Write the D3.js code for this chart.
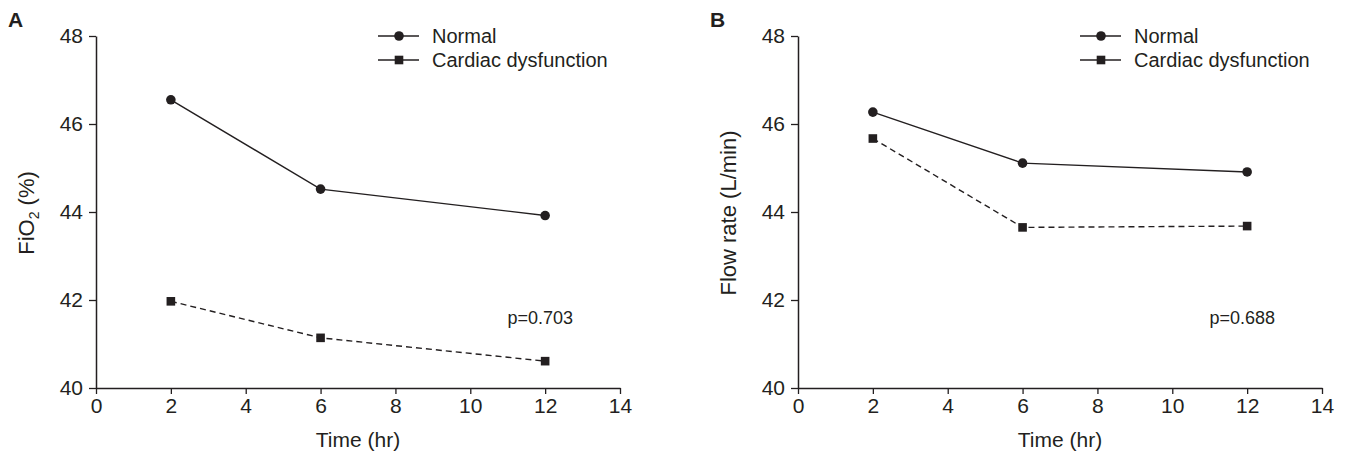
<!DOCTYPE html>
<html>
<head>
<meta charset="utf-8">
<script src="https://d3js.org/d3.v7.min.js"></script>
<style>
  body { margin: 0; background: #fff; }
  text { font-family: "Liberation Sans", Arial, sans-serif; fill: #231f20; }
</style>
</head>
<body>
<script>
// data
var times = [2, 6, 12];
var xTicks = [0, 2, 4, 6, 8, 10, 12, 14];
var yTicks = [40, 42, 44, 46, 48];
var seriesNames = ["Normal", "Cardiac dysfunction"];

var fio2Normal = [46.55, 44.52, 43.92];
var fio2Cardiac = [41.97, 41.14, 40.61];
var flowNormal = [46.27, 45.11, 44.91];
var flowCardiac = [45.67, 43.65, 43.68];

var width = 1347, height = 458;
var ink = "#231f20";

var svg = d3.select("body").append("svg")
  .attr("width", width)
  .attr("height", height);

function panel(left, letter, ylabel, normal, cardiac, pText) {
  var x = d3.scaleLinear().domain([0, 14]).range([left, left + 524]);
  var y = d3.scaleLinear().domain([40, 48]).range([388, 36]);
  var g = svg.append("g");

  var xAxis = g.append("g")
    .attr("transform", "translate(0,388)")
    .call(d3.axisBottom(x).tickValues(xTicks).tickSize(6).tickPadding(4).tickSizeOuter(0));
  var yAxis = g.append("g")
    .attr("transform", "translate(" + left + ",0)")
    .call(d3.axisLeft(y).tickValues(yTicks).tickSize(7).tickPadding(6).tickSizeOuter(0));

  [xAxis, yAxis].forEach(function (a) {
    a.select(".domain").attr("stroke", ink).attr("stroke-width", 1.5);
    a.selectAll(".tick line").attr("stroke", ink).attr("stroke-width", 1.3);
    a.selectAll(".tick text")
      .style("font-family", "'Liberation Sans', Arial, sans-serif")
      .style("font-size", "21px")
      .attr("fill", ink);
  });

  g.append("text")
    .attr("x", x(7)).attr("y", 447)
    .attr("text-anchor", "middle")
    .style("font-size", "21px")
    .text("Time (hr)");

  var yl = g.append("text")
    .attr("transform", "translate(" + (left - 62) + ",213) rotate(-90)")
    .attr("text-anchor", "middle")
    .style("font-size", "22px");
  if (ylabel === "fio2") {
    yl.append("tspan").text("FiO");
    yl.append("tspan").attr("dy", 5).style("font-size", "14px").text("2");
    yl.append("tspan").attr("dy", -5).text(" (%)");
  } else {
    yl.text(ylabel);
  }

  g.append("text")
    .attr("x", left - 88).attr("y", 27)
    .style("font-size", "21px").style("font-weight", "bold")
    .text(letter);

  var line = d3.line()
    .x(function (d, i) { return x(times[i]); })
    .y(function (d) { return y(d); });

  g.append("path").datum(normal)
    .attr("d", line).attr("fill", "none")
    .attr("stroke", ink).attr("stroke-width", 1.4);
  g.append("path").datum(cardiac)
    .attr("d", line).attr("fill", "none")
    .attr("stroke", ink).attr("stroke-width", 1.4)
    .attr("stroke-dasharray", "6,4");

  g.selectAll(".dot").data(normal).enter().append("circle")
    .attr("cx", function (d, i) { return x(times[i]); })
    .attr("cy", function (d) { return y(d); })
    .attr("r", 4.8).attr("fill", ink);
  g.selectAll(".sq").data(cardiac).enter().append("rect")
    .attr("x", function (d, i) { return x(times[i]) - 4.3; })
    .attr("y", function (d) { return y(d) - 4.3; })
    .attr("width", 8.6).attr("height", 8.6).attr("fill", ink);

  g.append("text")
    .attr("x", x(11.87)).attr("y", 324)
    .attr("text-anchor", "middle")
    .style("font-size", "18px")
    .text(pText);

  // legend
  var lx = left + 282;
  seriesNames.forEach(function (name, i) {
    var ly = 36 + i * 24;
    g.append("line")
      .attr("x1", lx).attr("x2", lx + 41)
      .attr("y1", ly).attr("y2", ly)
      .attr("stroke", ink).attr("stroke-width", 1.4);
    if (i === 0) {
      g.append("circle").attr("cx", lx + 21).attr("cy", ly).attr("r", 4.8).attr("fill", ink);
    } else {
      g.append("rect").attr("x", lx + 21 - 4.3).attr("y", ly - 4.3)
        .attr("width", 8.6).attr("height", 8.6).attr("fill", ink);
    }
    g.append("text")
      .attr("x", lx + 54).attr("y", ly + 7)
      .style("font-size", "20px")
      .text(name);
  });
}

panel(96, "A", "fio2", fio2Normal, fio2Cardiac, "p=0.703");
panel(798, "B", "Flow rate (L/min)", flowNormal, flowCardiac, "p=0.688");
</script>
</body>
</html>
